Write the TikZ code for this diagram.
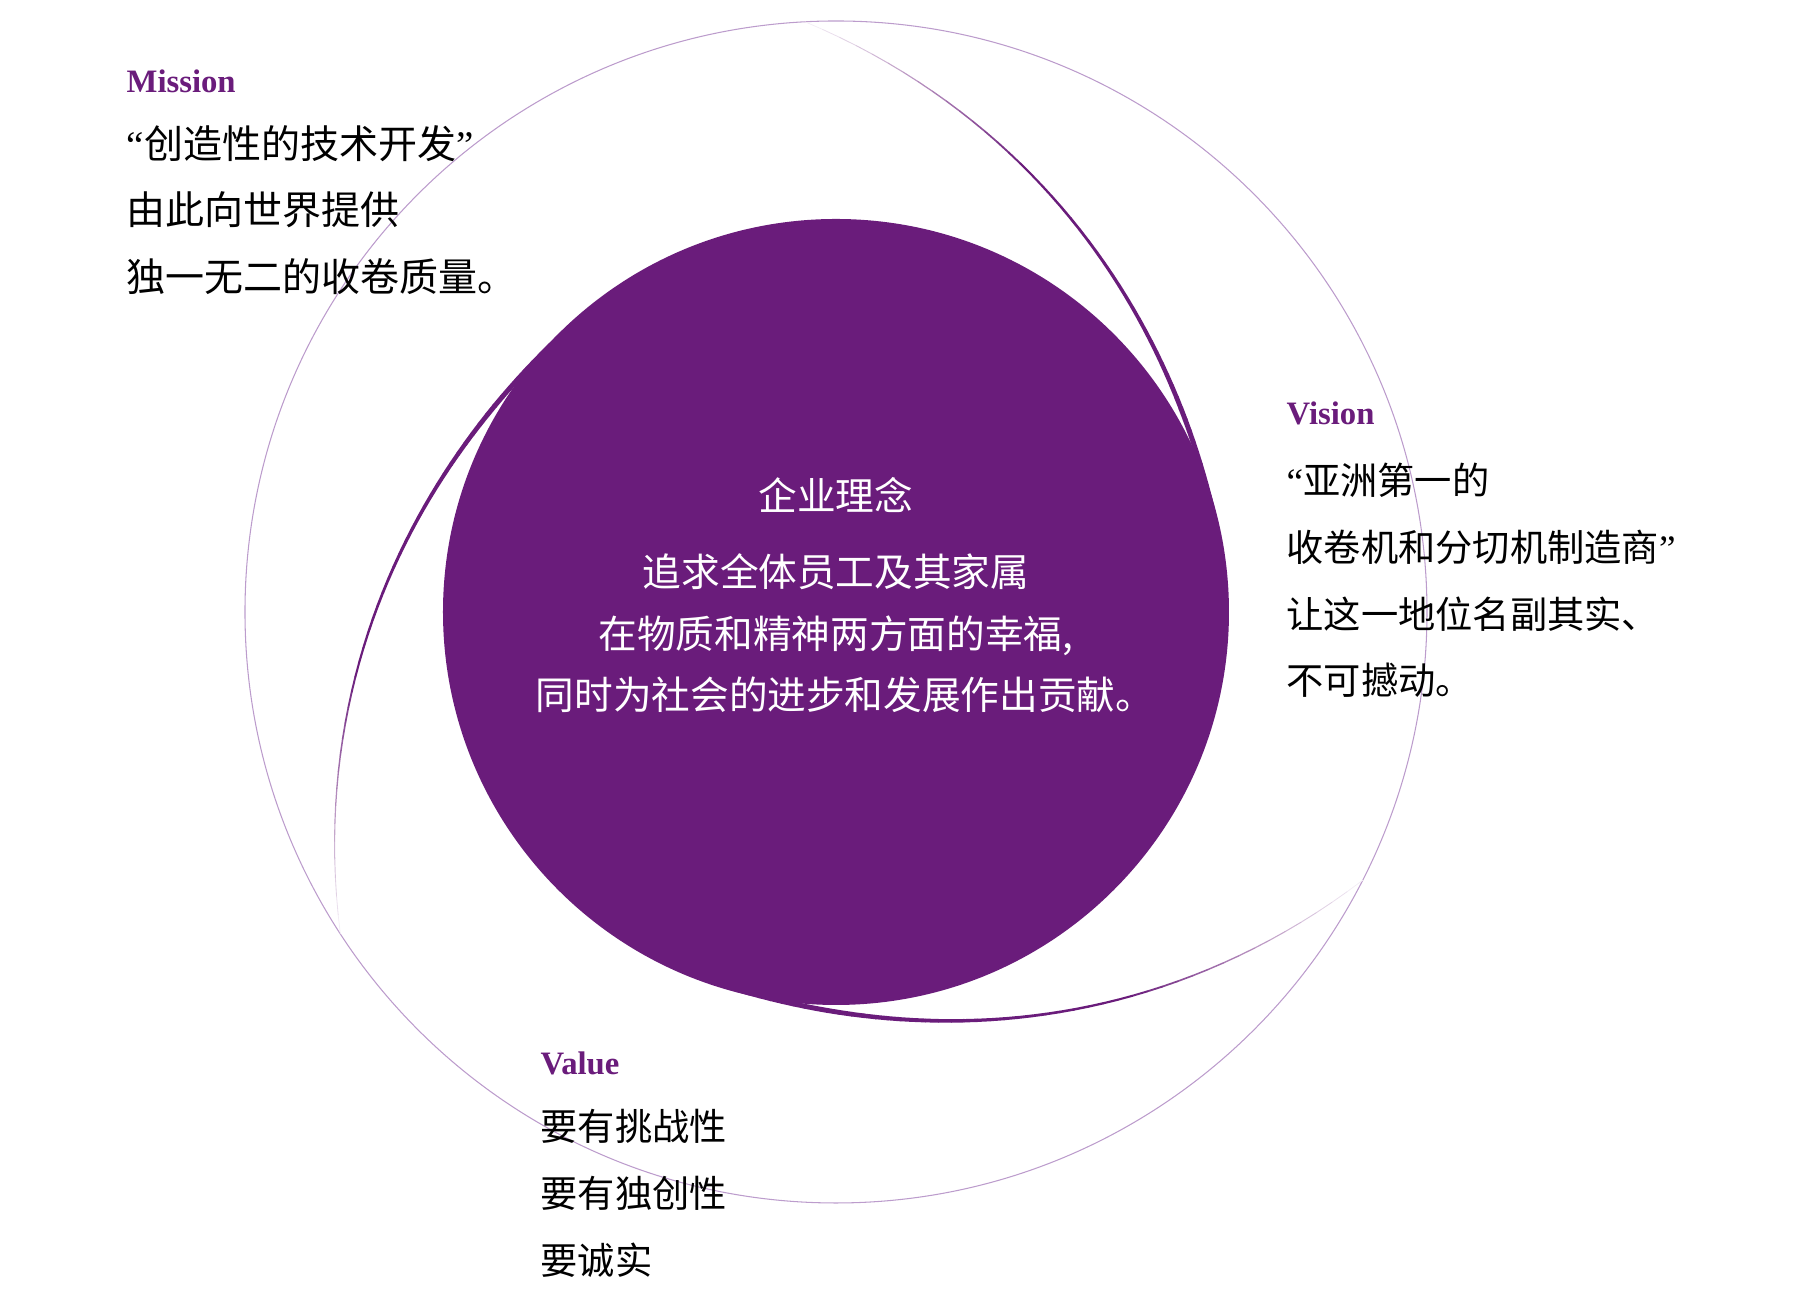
\documentclass[tikz,border=0pt]{standalone}
\usepackage{fontspec}
\setmainfont{Liberation Serif}
\newfontfamily\cjk{Noto Sans CJK SC}
\usetikzlibrary{positioning}
\definecolor{vpurple}{RGB}{106,28,123}
\definecolor{vring}{RGB}{188,156,204}
\newcommand{\openq}{{\rmfamily “}}
\newcommand{\closeq}{{\rmfamily ”}}

\begin{document}
\begin{tikzpicture}[
    labeltext/.style={font=\rmfamily\bfseries\fontsize{9.3}{11}\selectfont,text=vpurple,inner sep=0pt,anchor=west},
    bodytext/.style={font=\cjk\fontsize{11.1}{19}\selectfont,align=left,inner sep=0pt,anchor=west},
    smalltext/.style={bodytext,font=\cjk\fontsize{10.6}{19}\selectfont},
    coretext/.style={font=\cjk\fontsize{11}{17.5}\selectfont,align=center,inner sep=0pt,text=white}
]
\useasboundingbox (-8.36,-6.97) rectangle (9.64,6.12);

% Rings
\draw[vring,line width=0.3pt] (0,0) circle (5.91);

% Sweeping arcs
\foreach \a in {93,213,333}{
    \foreach \i in {0,...,47}{
        \pgfmathsetmacro{\sa}{\i/48}
        \pgfmathsetmacro{\sb}{(\i+1)/48}
        \pgfmathsetmacro{\pa}{\a-81*\sa}
        \pgfmathsetmacro{\pb}{\a-81*\sb}
        \pgfmathsetmacro{\ra}{3.90+2.01*(1-\sa)^2}
        \pgfmathsetmacro{\rb}{3.90+2.01*(1-\sb)^2}
        \pgfmathsetmacro{\w}{0.2+1.2*min(1,\sb/0.8)^1.3}
        \pgfmathtruncatemacro{\c}{min(100,8+300*\sa)}
        \draw[line width=\w pt,vpurple!\c!white,line cap=round] (\pa:\ra) -- (\pb:\rb);
    }
}
\fill[vpurple] (0,0) circle (3.93);

% Centre
\node[coretext] (coretitle) at (0,1.17) {企业理念};
\node[coretext] (corebody) at (0,-0.215) {追求全体员工及其家属\\在物质和精神两方面的幸福,\\\hspace*{0.18cm}同时为社会的进步和发展作出贡献。};

% Mission
\node[labeltext] (missionlbl) at (-7.10,5.31) {Mission};
\node[bodytext] (mission) at (-7.10,4.02) {\openq 创造性的技术开发\closeq\\由此向世界提供\\独一无二的收卷质量。};

% Vision
\node[labeltext] (visionlbl) at (4.50,1.99) {Vision};
\node[smalltext] (vision) at (4.50,0.315) {\openq 亚洲第一的\\收卷机和分切机制造商\closeq\\让这一地位名副其实、\\不可撼动。};

% Value
\node[labeltext] (valuelbl) at (-2.96,-4.51) {Value};
\node[smalltext] (value) at (-2.96,-5.815) {要有挑战性\\要有独创性\\要诚实};
\end{tikzpicture}
\end{document}
